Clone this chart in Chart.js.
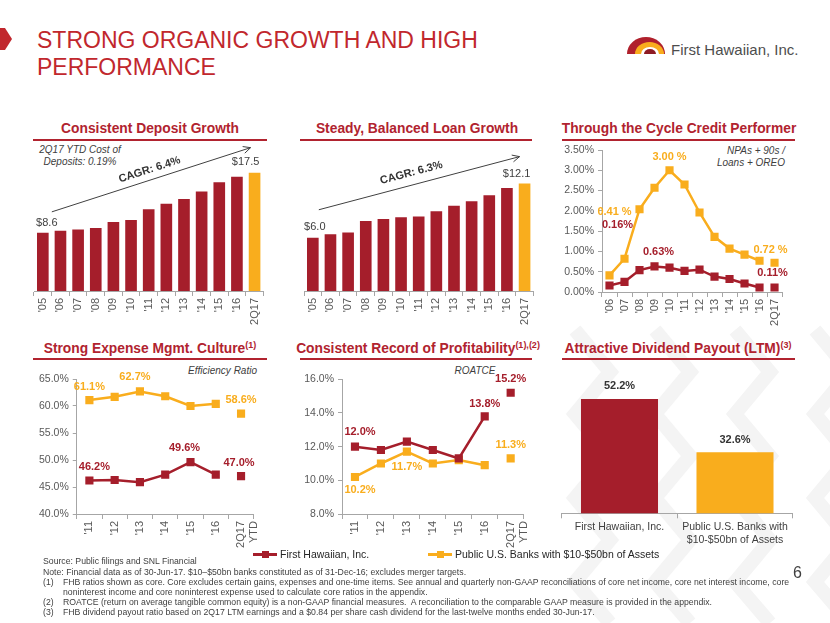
<!DOCTYPE html>
<html>
<head>
<meta charset="utf-8">
<script src="https://cdn.jsdelivr.net/npm/chart.js@4.4.1/dist/chart.umd.min.js"></script>
<style>
  body { margin: 0; width: 830px; height: 623px; position: relative; overflow: hidden; background: #fff;
         font-family: "Liberation Sans", Arial, sans-serif; }
  .abs { position: absolute; white-space: nowrap; }
  .ptitle { position: absolute; width: 300px; text-align: center; font-weight: bold; font-size: 13.8px;
            line-height: 16px; color: #B1232F; white-space: nowrap; }
  .ptitle sup { font-size: 9px; vertical-align: 5px; line-height: 0; }
  .uline { position: absolute; height: 2px; background: #B1232F; }
  .note { position: absolute; font-style: italic; font-size: 10px; line-height: 11.5px; color: #404040; white-space: nowrap; }
  canvas { position: absolute; }
  .foot { position: absolute; left: 43px; font-size: 8.7px; line-height: 10px; color: #404040; white-space: nowrap; }
  .foot span.n { display: inline-block; width: 20px; }
  .leg { position: absolute; top: 548px; font-size: 10.5px; color: #262626; white-space: nowrap; display: flex; align-items: center; }
  .leg i { position: relative; display: inline-block; width: 24px; height: 3px; margin-right: 3px; }
  .leg i b { position: absolute; left: 9px; top: -2px; width: 7px; height: 7px; }
</style>
</head>
<body>

<!-- faint background chevrons -->
<svg class="abs" style="left:0;top:0" width="830" height="623">
  <g fill="none" stroke="#F4F4F4" stroke-width="14">
    <polyline points="575,330 610,372 575,414 610,456 575,498 610,540 575,582 610,623"/>
    <polyline points="655,330 690,372 655,414 690,456 655,498 690,540 655,582 690,623"/>
    <polyline points="735,330 770,372 735,414 770,456 735,498 770,540 735,582 770,623"/>
    <polyline points="815,330 850,372 815,414 850,456 815,498 850,540 815,582 850,623"/>
  </g>
</svg>

<!-- header -->
<svg class="abs" style="left:0;top:0" width="830" height="90">
  <polygon points="0,28 5,28 12,39 5,50 0,50" fill="#C1272D"/>
  <path d="M627,54 A19,17 0 0 1 665,54 Z" fill="#B0202C"/>
  <path d="M635,54 A14.5,12 0 0 1 664,54 Z" fill="#F9AD1D"/>
  <path d="M641,54 A9,7 0 0 1 659,54 Z" fill="#fff"/>
  <path d="M644,54 A6,5 0 0 1 656,54 Z" fill="#8E1B24"/>
</svg>
<div class="abs" style="left:37px;top:27px;font-size:23px;line-height:27px;color:#C1272D;">STRONG ORGANIC GROWTH AND HIGH<br>PERFORMANCE</div>
<div class="abs" style="left:671px;top:41px;font-size:15px;line-height:18px;color:#4D4D4D;">First Hawaiian, Inc.</div>

<!-- panel titles -->
<div class="ptitle" style="left:0px;top:121px;">Consistent Deposit Growth</div>
<div class="ptitle" style="left:267px;top:121px;">Steady, Balanced Loan Growth</div>
<div class="ptitle" style="left:529px;top:121px;">Through the Cycle Credit Performer</div>
<div class="ptitle" style="left:0px;top:341px;">Strong Expense Mgmt. Culture<sup>(1)</sup></div>
<div class="ptitle" style="left:268px;top:341px;">Consistent Record of Profitability<sup>(1),(2)</sup></div>
<div class="ptitle" style="left:528px;top:341px;">Attractive Dividend Payout (LTM)<sup>(3)</sup></div>
<div class="uline" style="left:33px;top:139px;width:234px;"></div>
<div class="uline" style="left:300px;top:139px;width:232px;"></div>
<div class="uline" style="left:562px;top:139px;width:233px;"></div>
<div class="uline" style="left:33px;top:358px;width:234px;"></div>
<div class="uline" style="left:300px;top:358px;width:232px;"></div>
<div class="uline" style="left:562px;top:358px;width:233px;"></div>

<!-- italic notes -->
<div class="note" style="left:30px;top:144px;width:100px;text-align:center;">2Q17 YTD Cost of<br>Deposits: 0.19%</div>
<div class="note" style="left:685px;top:145px;width:100px;text-align:right;">NPAs + 90s /<br>Loans + OREO</div>
<div class="note" style="left:157px;top:365px;width:100px;text-align:right;">Efficiency Ratio</div>
<div class="note" style="left:425px;top:365px;width:100px;text-align:center;">ROATCE</div>

<!-- charts -->
<canvas id="depositChart" width="240" height="201" style="left:30px;top:128px;"></canvas>
<canvas id="loanChart" width="250" height="201" style="left:290px;top:128px;"></canvas>
<canvas id="creditChart" width="240" height="200" style="left:550px;top:130px;"></canvas>
<canvas id="effChart" width="250" height="192" style="left:20px;top:360px;"></canvas>
<canvas id="roatceChart" width="250" height="192" style="left:290px;top:360px;"></canvas>
<canvas id="payoutChart" width="280" height="194" style="left:550px;top:360px;"></canvas>

<!-- legend + footnotes -->
<div id="legend"></div>
<div class="foot" style="top:556px;">Source: Public filings and SNL Financial</div>
<div class="foot" style="top:567px;">Note: Financial data as of 30-Jun-17. $10–$50bn banks constituted as of 31-Dec-16; excludes merger targets.</div>
<div class="foot" style="top:577px;"><span class="n">(1)</span>FHB ratios shown as core. Core excludes certain gains, expenses and one-time items. See annual and quarterly non-GAAP reconciliations of core net income, core net interest income, core</div>
<div class="foot" style="top:587px;"><span class="n"></span>noninterest income and core noninterest expense used to calculate core ratios in the appendix.</div>
<div class="foot" style="top:597px;"><span class="n">(2)</span>ROATCE (return on average tangible common equity) is a non-GAAP financial measures.&nbsp; A reconciliation to the comparable GAAP measure is provided in the appendix.</div>
<div class="foot" style="top:607px;"><span class="n">(3)</span>FHB dividend payout ratio based on 2Q17 LTM earnings and a $0.84 per share cash dividend for the last-twelve months ended 30-Jun-17.</div>
<div class="abs" style="left:793px;top:564px;font-size:16px;line-height:18px;color:#404040;">6</div>

<script>
// ── Data ───────────────────────────────────────────────────────────────────────

const seriesNames   = ['First Hawaiian, Inc.', 'Public U.S. Banks with $10-$50bn of Assets'];

const growthYears   = ["'05", "'06", "'07", "'08", "'09", "'10", "'11", "'12", "'13", "'14", "'15", "'16", '2Q17'];
const depositValues = [8.6, 8.9, 9.1, 9.3, 10.2, 10.5, 12.1, 12.9, 13.6, 14.7, 16.1, 16.9, 17.5];
const loanValues    = [6.0, 6.4, 6.6, 7.9, 8.1, 8.3, 8.4, 9.0, 9.6, 10.1, 10.8, 11.6, 12.1];
const depositCagr   = 'CAGR: 6.4%';
const loanCagr      = 'CAGR: 6.3%';

const creditYears   = ["'06", "'07", "'08", "'09", "'10", "'11", "'12", "'13", "'14", "'15", "'16", '2Q17'];
const creditFHB     = [0.16, 0.25, 0.54, 0.63, 0.60, 0.52, 0.55, 0.38, 0.32, 0.21, 0.11, 0.11];
const creditPeers   = [0.41, 0.82, 2.04, 2.57, 3.00, 2.65, 1.96, 1.36, 1.07, 0.92, 0.77, 0.72];
const creditTicks   = [0, 0.5, 1.0, 1.5, 2.0, 2.5, 3.0, 3.5];

const ratioYears    = ["'11", "'12", "'13", "'14", "'15", "'16", ['2Q17', 'YTD']];
const effFHB        = [46.2, 46.3, 45.9, 47.3, 49.6, 47.3, 47.0];
const effPeers      = [61.1, 61.7, 62.7, 61.8, 60.0, 60.4, 58.6];
const effTicks      = [40, 45, 50, 55, 60, 65];
const roatceFHB     = [12.0, 11.8, 12.3, 11.8, 11.3, 13.8, 15.2];
const roatcePeers   = [10.2, 11.0, 11.7, 11.0, 11.2, 10.9, 11.3];
const roatceTicks   = [8, 10, 12, 14, 16];

const payoutNames   = ['First Hawaiian, Inc.', ['Public U.S. Banks with', '$10-$50bn of Assets']];
const payoutValues  = [52.2, 32.6];

// ── Style ──────────────────────────────────────────────────────────────────────

const RED   = '#A51E2B';
const YEL   = '#F9AD1D';
const AXIS  = '#A6A6A6';
const TICK  = '#595959';
const FONT  = '"Liberation Sans", Arial, sans-serif';

Chart.defaults.font.family = FONT;
Chart.defaults.animation = false;
Chart.defaults.plugins.legend.display = false;
Chart.defaults.plugins.tooltip.enabled = false;

// ── Plugins ────────────────────────────────────────────────────────────────────

// labels sitting next to given points / bars, text comes from the data value
const valueLabels = {
  id: 'valueLabels',
  afterDatasetsDraw(chart, args, opts) {
    const ctx = chart.ctx;
    (opts.items || []).forEach(it => {
      const ds = chart.data.datasets[it.ds];
      const el = chart.getDatasetMeta(it.ds).data[it.i];
      ctx.save();
      ctx.font = it.font || opts.font;
      ctx.fillStyle = it.color || ds.borderColor;
      ctx.textAlign = 'center';
      ctx.textBaseline = 'middle';
      ctx.fillText(it.fmt(ds.data[it.i]), el.x + (it.dx || 0), el.y + it.dy);
      ctx.restore();
    });
  }
};

// growth arrow from first to last bar with the CAGR written along it
const cagrArrow = {
  id: 'cagrArrow',
  afterDatasetsDraw(chart, args, o) {
    if (!o.text) return;
    const bars = chart.getDatasetMeta(0).data;
    const a = bars[0], b = bars[bars.length - 1];
    const x1 = a.x + o.start[0], y1 = a.y + o.start[1];
    const x2 = b.x + o.end[0],   y2 = b.y + o.end[1];
    const ang = Math.atan2(y2 - y1, x2 - x1);
    const ctx = chart.ctx;
    ctx.save();
    ctx.strokeStyle = '#404040';
    ctx.lineWidth = 1;
    ctx.beginPath();
    ctx.moveTo(x1, y1);
    ctx.lineTo(x2, y2);
    ctx.moveTo(x2 - 8 * Math.cos(ang - 0.45), y2 - 8 * Math.sin(ang - 0.45));
    ctx.lineTo(x2, y2);
    ctx.lineTo(x2 - 8 * Math.cos(ang + 0.45), y2 - 8 * Math.sin(ang + 0.45));
    ctx.stroke();
    ctx.translate((x1 + x2) / 2, (y1 + y2) / 2);
    ctx.rotate(ang);
    ctx.font = 'bold 11px ' + FONT;
    ctx.fillStyle = '#333333';
    ctx.textAlign = 'center';
    ctx.textBaseline = 'middle';
    ctx.fillText(o.text, o.shift[0], o.shift[1]);
    ctx.restore();
  }
};

// ── Helpers ────────────────────────────────────────────────────────────────────

const pct1 = v => v.toFixed(1) + '%';
const pct2 = v => v.toFixed(2) + '%';
const pct2s = v => v.toFixed(2) + ' %';
const dollar = v => '$' + v.toFixed(1);

function xAxis(height, rotate) {
  return {
    offset: true,
    grid: { offset: true, drawOnChartArea: false, tickLength: 5, color: AXIS },
    border: { color: AXIS },
    ticks: {
      color: TICK, font: { size: rotate ? 11 : 10.5 }, autoSkip: false, padding: 2,
      minRotation: rotate ? 90 : 0, maxRotation: rotate ? 90 : 0
    },
    afterFit: s => { s.height = height; }
  };
}

function yAxis(width, min, max, ticks, fmt) {
  return {
    min, max,
    afterBuildTicks: s => { s.ticks = ticks.map(v => ({ value: v })); },
    grid: { drawOnChartArea: false, tickLength: 4, color: AXIS },
    border: { color: AXIS },
    ticks: { color: TICK, font: { size: 10.5 }, padding: 4, callback: fmt },
    afterFit: s => { s.width = width; }
  };
}

function lineSet(label, data, color) {
  const last = data.length - 1;
  return {
    label, data,
    borderColor: color, backgroundColor: color,
    borderWidth: 2.5,
    pointStyle: 'rect', pointRadius: 4, pointHoverRadius: 4,
    segment: { borderColor: c => c.p1DataIndex === last ? 'transparent' : color }
  };
}

function growthChart(id, values, max, padLeft, padRight, labels, arrow) {
  const last = values.length - 1;
  new Chart(document.getElementById(id), {
    type: 'bar',
    data: {
      labels: growthYears,
      datasets: [{
        data: values,
        backgroundColor: values.map((v, i) => i === last ? YEL : RED),
        barPercentage: 0.66, categoryPercentage: 1
      }]
    },
    options: {
      responsive: false,
      layout: { padding: { top: 21, left: padLeft, right: padRight, bottom: 0 } },
      scales: {
        x: xAxis(38, true),
        y: { display: false, min: 0, max }
      },
      plugins: {
        valueLabels: { font: '11px ' + FONT, items: labels },
        cagrArrow: arrow
      }
    },
    plugins: [valueLabels, cagrArrow]
  });
}

// ── Row 1 ──────────────────────────────────────────────────────────────────────

growthChart('depositChart', depositValues, 21, 4, 6, [
  { ds: 0, i: 0,  fmt: dollar, dx: 4,  dy: -10, color: '#404040' },
  { ds: 0, i: 12, fmt: dollar, dx: -9, dy: -11, color: '#404040' }
], { text: depositCagr, start: [9, -21], end: [-4, -25], shift: [1.5, -10] });

growthChart('loanChart', loanValues, 16, 14, 6, [
  { ds: 0, i: 0,  fmt: dollar, dx: 2,  dy: -11, color: '#404040' },
  { ds: 0, i: 12, fmt: dollar, dx: -8, dy: -10, color: '#404040' }
], { text: loanCagr, start: [6, -28], end: [-5, -27], shift: [-5, -12] });

new Chart(document.getElementById('creditChart'), {
  type: 'line',
  data: {
    labels: creditYears,
    datasets: [lineSet(seriesNames[0], creditFHB, RED), lineSet(seriesNames[1], creditPeers, YEL)]
  },
  options: {
    responsive: false,
    layout: { padding: { top: 20, left: 0, right: 4.6, bottom: 0 } },
    scales: {
      x: xAxis(38, true),
      y: yAxis(52, 0, 3.5, creditTicks, pct2)
    },
    plugins: {
      valueLabels: { font: 'bold 11px ' + FONT, items: [
        { ds: 1, i: 4,  fmt: pct2s, dx: 0,  dy: -13 },
        { ds: 1, i: 0,  fmt: pct2s, dx: 5,  dy: -63 },
        { ds: 0, i: 0,  fmt: pct2,  dx: 8,  dy: -61 },
        { ds: 0, i: 3,  fmt: pct2,  dx: 4,  dy: -14.5 },
        { ds: 1, i: 11, fmt: pct2s, dx: -4, dy: -13 },
        { ds: 0, i: 11, fmt: pct2,  dx: -2, dy: -15 }
      ] }
    }
  },
  plugins: [valueLabels]
});

// ── Row 2 ──────────────────────────────────────────────────────────────────────

new Chart(document.getElementById('effChart'), {
  type: 'line',
  data: {
    labels: ratioYears,
    datasets: [lineSet(seriesNames[0], effFHB, RED), lineSet(seriesNames[1], effPeers, YEL)]
  },
  options: {
    responsive: false,
    layout: { padding: { top: 19, left: 0, right: 7.75, bottom: 0 } },
    scales: {
      x: xAxis(38, true),
      y: yAxis(56.75, 40, 65, effTicks, pct1)
    },
    plugins: {
      valueLabels: { font: 'bold 11px ' + FONT, items: [
        { ds: 1, i: 0, fmt: pct1, dx: 0,  dy: -13.5 },
        { ds: 1, i: 2, fmt: pct1, dx: -5, dy: -14 },
        { ds: 1, i: 6, fmt: pct1, dx: 0,  dy: -14 },
        { ds: 0, i: 0, fmt: pct1, dx: 5,  dy: -14 },
        { ds: 0, i: 4, fmt: pct1, dx: -6, dy: -14 },
        { ds: 0, i: 6, fmt: pct1, dx: -2, dy: -13 }
      ] }
    }
  },
  plugins: [valueLabels]
});

new Chart(document.getElementById('roatceChart'), {
  type: 'line',
  data: {
    labels: ratioYears,
    datasets: [lineSet(seriesNames[0], roatceFHB, RED), lineSet(seriesNames[1], roatcePeers, YEL)]
  },
  options: {
    responsive: false,
    layout: { padding: { top: 19.3, left: 0, right: 13, bottom: 0 } },
    scales: {
      x: xAxis(38, true),
      y: yAxis(52, 8, 16, roatceTicks, pct1)
    },
    plugins: {
      valueLabels: { font: 'bold 11px ' + FONT, items: [
        { ds: 0, i: 0, fmt: pct1, dx: 5, dy: -14.5 },
        { ds: 0, i: 5, fmt: pct1, dx: 0, dy: -12.5 },
        { ds: 0, i: 6, fmt: pct1, dx: 0, dy: -13.5 },
        { ds: 1, i: 6, fmt: pct1, dx: 0, dy: -13 },
        { ds: 1, i: 2, fmt: pct1, dx: 0, dy: 15 },
        { ds: 1, i: 0, fmt: pct1, dx: 5, dy: 13 }
      ] }
    }
  },
  plugins: [valueLabels]
});

new Chart(document.getElementById('payoutChart'), {
  type: 'bar',
  data: {
    labels: payoutNames,
    datasets: [{
      data: payoutValues,
      backgroundColor: [RED, YEL],
      barPercentage: 0.667, categoryPercentage: 1
    }]
  },
  options: {
    responsive: false,
    layout: { padding: { top: 18, left: 11.75, right: 37.25, bottom: 0 } },
    scales: {
      x: Object.assign(xAxis(40.7, false), { ticks: { color: '#404040', font: { size: 10.5 }, padding: 3, maxRotation: 0, autoSkip: false } }),
      y: { display: false, min: 10, max: 60 }
    },
    plugins: {
      valueLabels: { font: 'bold 11px ' + FONT, items: [
        { ds: 0, i: 0, fmt: pct1, dy: -13, color: '#333333' },
        { ds: 0, i: 1, fmt: pct1, dy: -12, color: '#333333' }
      ] }
    }
  },
  plugins: [valueLabels]
});

// ── Legend ─────────────────────────────────────────────────────────────────────

const legendPos = [253, 428];
const legendCol = [RED, YEL];
document.getElementById('legend').innerHTML = seriesNames.map((name, k) =>
  `<div class="leg" style="left:${legendPos[k]}px"><i style="background:${legendCol[k]}"><b style="background:${legendCol[k]}"></b></i>${name}</div>`
).join('');
</script>
</body>
</html>
